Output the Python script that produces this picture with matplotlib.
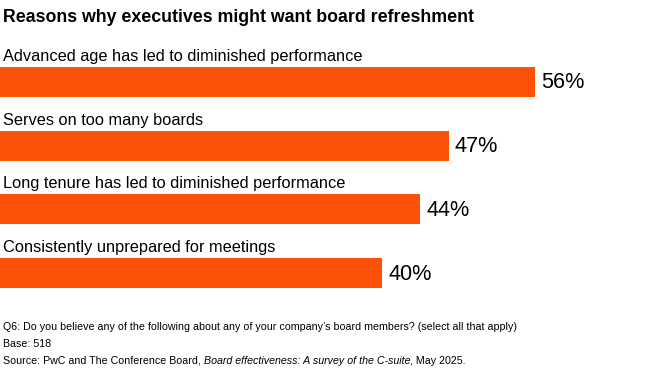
import matplotlib
matplotlib.use("Agg")
import matplotlib.pyplot as plt

categories = [
    "Advanced age has led to diminished performance",
    "Serves on too many boards",
    "Long tenure has led to diminished performance",
    "Consistently unprepared for meetings",
]
values = [56, 47, 44, 40]

title = "Reasons why executives might want board refreshment"
note_q = ("Q6: Do you believe any of the following about any of your "
          "company\u2019s board members? (select all that apply)")
note_base = "Base: 518"
source_parts = [
    ("Source: PwC and The Conference Board,", "normal"),
    (" Board effectiveness: A survey of the C-suite", "italic"),
    (", May 2025.", "normal"),
]

ORANGE = "#FD5108"
TEXT = "#000000"
W, H = 665, 371

plt.rcParams["font.family"] = ["Liberation Sans", "DejaVu Sans"]

fig = plt.figure(figsize=(W / 100, H / 100), dpi=100)
fig.patch.set_facecolor("white")

# axes spans the whole figure; y in "row" units, x in percent
px_per_pct = 9.55
row_px = 63.7
first_px = 82
ax = fig.add_axes([0, 0, 1, 1])
ax.set_xlim(0, W / px_per_pct)
ax.set_ylim((H - first_px) / row_px, -first_px / row_px)
ax.axis("off")

idx = list(range(len(categories)))
ax.barh(idx, values, height=30 / row_px, color=ORANGE, left=0)
for i, (cat, v) in enumerate(zip(categories, values)):
    ax.text(3 / px_per_pct, i - 21 / row_px, cat, fontsize=11.8, color=TEXT,
            va="baseline", ha="left")
    ax.text(v + 6 / px_per_pct, i + 1 / row_px, f"{v}%", fontsize=15.6,
            color=TEXT, va="center", ha="left")

fig.text(3 / W, 1 - 21.5 / H, title, fontsize=12.8, fontweight="bold",
         color=TEXT, va="baseline", ha="left")

fig.text(3 / W, 1 - 330 / H, note_q, fontsize=7.7, color=TEXT,
         va="baseline", ha="left")
fig.text(3 / W, 1 - 347 / H, note_base, fontsize=7.7, color=TEXT,
         va="baseline", ha="left")

# source line: mixed upright / italic pieces placed one after another
renderer = fig.canvas.get_renderer()
x = 3
for txt, style in source_parts:
    t = fig.text(x / W, 1 - 363.5 / H, txt, fontsize=7.7, style=style,
                 color=TEXT, va="baseline", ha="left")
    x = t.get_window_extent(renderer).x1

fig.savefig("out.png", dpi=100)
